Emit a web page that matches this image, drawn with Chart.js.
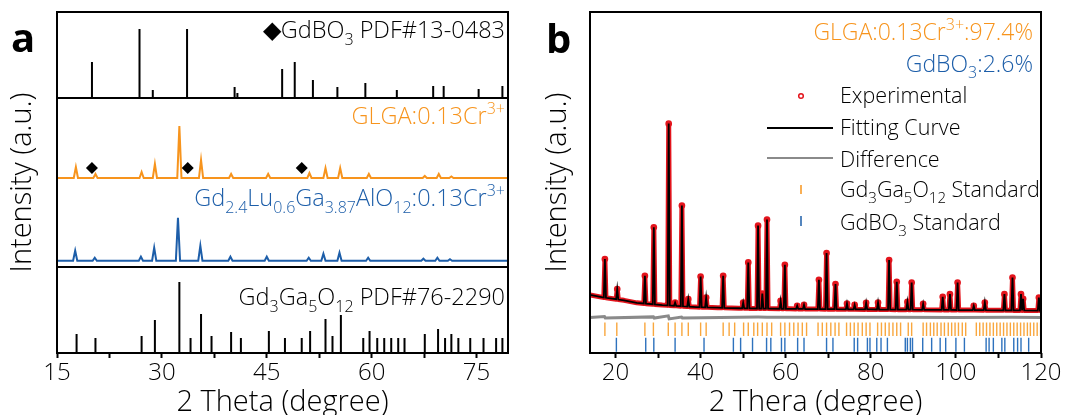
<!DOCTYPE html>
<html>
<head>
<meta charset="utf-8">
<script src="https://cdn.jsdelivr.net/npm/chart.js@4.4.1/dist/chart.umd.min.js"></script>
<style>
  html, body { margin: 0; padding: 0; background: #fff; overflow: hidden; }
  #wrap { position: relative; width: 1071px; height: 415px; }
  #chartA { position: absolute; left: 0; top: 0; }
  #chartB { position: absolute; left: 535px; top: 0; }
</style>
</head>
<body>
<div id="wrap">
  <canvas id="chartA" width="535" height="415" style="width:535px;height:415px"></canvas>
  <canvas id="chartB" width="536" height="415" style="width:536px;height:415px"></canvas>
</div>
<script>
// ---- panel a: reference cards and measured patterns (2θ in degrees, heights in a.u.) ----
const gdboRefPos = [20.0, 26.8, 28.7, 33.6, 40.4, 40.8, 47.2, 49.0, 51.6, 55.1, 59.1, 63.6, 68.8, 70.3, 75.3, 78.7]
const gdboRefInt = [36, 69, 8, 69, 11, 5, 29, 36, 18, 11, 15, 8, 12, 12, 9, 12]

const gggRefPos = [17.8, 20.5, 27.1, 29.0, 32.5, 34.1, 35.6, 37.1, 39.9, 41.3, 45.3, 47.6, 50.0, 51.2, 53.4, 54.4, 55.6,
  58.8, 59.7, 60.8, 61.8, 62.8, 63.8, 64.7, 67.6, 69.5, 70.5, 71.4, 72.4, 74.1, 76.0, 77.8, 78.7]
const gggRefInt = [19, 15, 17, 33, 71, 15, 39, 17, 21, 15, 22, 15, 15, 22, 34, 17, 38,
  15, 22, 15, 15, 15, 15, 15, 19, 24, 15, 19, 15, 15, 15, 15, 15]

const glgaPeakPos = [17.7, 20.5, 27.1, 29.0, 32.5, 35.6, 39.9, 45.2, 51.1, 53.4, 55.5, 59.6, 67.6, 69.6, 71.4]
const glgaPeakInt = [11, 4, 6, 14, 52, 18, 4, 4, 5, 10, 10, 4, 2, 4, 1.5]

const gdluPeakPos = [17.6, 20.4, 27.0, 28.9, 32.3, 35.5, 39.8, 45.0, 51.0, 53.1, 55.4, 59.5, 67.4, 69.4, 71.2]
const gdluPeakInt = [10, 3, 4, 13, 43, 15, 4, 4, 3, 7, 8, 3, 2, 3, 1.5]

// GdBO3 impurity reflections marked in the GLGA pattern
const impurityPos = [20.0, 33.7, 50.0]

const aTicks = [15, 22.5, 30, 37.5, 45, 52.5, 60, 67.5, 75]
const aTickLabels = ["15", "", "30", "", "45", "", "60", "", "75"]

// ---- panel b: Rietveld refinement ----
const bgPos = [14, 17, 22, 25, 31, 39, 44, 49, 61, 80, 103, 120]
const bgVal = [58, 55.5, 52.5, 50, 47.8, 45.8, 45.2, 44.6, 44, 43.4, 42.8, 42.3]

const fitPeakPos = [17.5, 20.4, 26.9, 29.0, 32.5, 34.0, 35.6, 37.1, 40.0, 41.3, 45.3, 50.0, 51.2, 53.5, 54.5, 55.6,
  58.8, 59.8, 62.7, 64.3, 67.8, 69.6, 71.7, 74.4, 76.2, 78.9, 81.7, 84.3, 86.1, 88.6, 89.6, 92.3, 96.9, 98.6,
  100.4, 104.2, 106.8, 111.4, 113.3, 115.3, 115.8, 119.5]
const fitPeakTop = [93.7, 63.7, 77, 125.3, 228.7, 50.3, 147, 53.7, 76.3, 55.3, 77, 50.3, 90.3, 127, 59.3, 133,
  52, 88, 47, 48, 73, 99.7, 68.7, 49.3, 48, 50, 50.3, 92.7, 71, 51, 70.3, 49, 56, 58.7,
  70.3, 47, 50.3, 58.7, 75.3, 58.7, 54, 55.3]

const diffPos = [14, 17.4, 17.6, 28.9, 29.1, 32.4, 32.6, 35.5, 35.7, 53.5, 55.6, 69.6, 84.3, 100.4, 113.3, 120]
const diffVal = [35.5, 36.3, 34.8, 36, 34.8, 37, 34, 35.9, 35, 35.8, 35.7, 35.6, 35.6, 35.5, 35.6, 35.4]

const gggStdPos = [17.5, 20.3, 26.9, 28.9, 32.4, 34.0, 35.6, 37.1, 40.0, 41.3, 45.3, 46.7, 48.0, 50.1, 51.2, 52.5,
  53.4, 54.5, 55.6, 56.7, 58.8, 59.8, 60.9, 61.9, 62.9, 63.9, 64.9, 67.6, 68.6, 69.6, 70.6, 71.6, 72.5, 74.3,
  75.2, 76.1, 77.0, 78.0, 78.9, 79.8, 81.6, 82.5, 83.4, 84.3, 85.2, 86.1, 87.0, 88.8, 89.6, 92.3, 93.1, 94.0,
  94.8, 95.6, 96.5, 97.3, 98.2, 99.0, 99.8, 100.6, 101.5, 102.3, 104.8, 105.6, 106.4, 107.2, 108.0, 108.8,
  109.6, 110.4, 111.2, 112.0, 112.8, 113.6, 114.4, 115.2, 116.0, 116.8, 117.5, 118.3, 119.1, 119.9]
const gdboStdPos = [20.2, 27.1, 29.0, 34.0, 40.8, 47.7, 49.4, 52.2, 55.5, 56.5, 59.0, 59.8, 62.8, 64.3, 69.6, 71.1,
  76.1, 76.9, 79.2, 79.8, 81.4, 82.4, 83.9, 88.1, 88.6, 89.3, 89.8, 92.2, 94.3, 96.3, 97.6, 100.0, 102.0,
  107.1, 107.8, 108.8, 110.8, 111.5, 113.6, 114.5, 115.3, 117.1, 120.0]

const bTicks = [20, 30, 40, 50, 60, 70, 80, 90, 100, 110, 120]
const bTickLabels = ["20", "", "40", "", "60", "", "80", "", "100", "", "120"]

// vertical stacking of the panel a traces
const refBottomBase = 0
const lowerDivider = 86
const gdluBase = 92.3
const glgaBase = 175
const upperDivider = 255
const impurityY = 185

const orange = "#f7941d"
const blue = "#1d5ea9"
const red = "#e3141c"
const grey = "#8a8a8a"
const FONT = "\"Open Sans\", sans-serif"
const W = 350

Chart.defaults.font.family = FONT
Chart.defaults.color = "#000"

function sticks(pos, heights, base) {
  const pts = []
  pos.forEach((x, i) => {
    pts.push({ x, y: base }, { x, y: base + heights[i] }, { x, y: null })
  })
  return pts
}

function tickRow(pos, y0, y1) {
  const pts = []
  pos.forEach((x) => pts.push({ x, y: y0 }, { x, y: y1 }, { x, y: null }))
  return pts
}

function flatProfile(pos, heights, base, x0, x1, half) {
  const pts = [{ x: x0, y: base }, { x: x1, y: base }]
  pos.forEach((x, i) => {
    pts.push({ x: x - half, y: base }, { x, y: base + heights[i] }, { x: x + half, y: base })
  })
  return pts.sort((a, b) => a.x - b.x)
}

function background(x) {
  for (let i = 1; i < bgPos.length; i++) {
    if (x <= bgPos[i]) {
      const t = (x - bgPos[i - 1]) / (bgPos[i] - bgPos[i - 1])
      return bgVal[i - 1] + t * (bgVal[i] - bgVal[i - 1])
    }
  }
  return bgVal[bgVal.length - 1]
}

function refinedProfile(half) {
  const pts = bgPos.map((x, i) => ({ x, y: bgVal[i], top: false }))
  fitPeakPos.forEach((x, i) => {
    pts.push({ x: x - half, y: background(x - half), top: false },
      { x, y: fitPeakTop[i], top: true },
      { x: x + half, y: background(x + half), top: false })
  })
  return pts.sort((a, b) => a.x - b.x)
}

// text with sub/superscripts; parts = [[text, "sub"|"sup"|undefined], ...]
function richText(ctx, parts, x, y, size, color, align) {
  const small = Math.round(size * 0.68)
  const fontOf = (k) => `${W} ${k ? small : size}px ${FONT}`
  const widths = parts.map(([t, k]) => { ctx.font = fontOf(k); return ctx.measureText(t).width })
  const total = widths.reduce((a, b) => a + b, 0)
  let cx = align === "right" ? x - total : x
  ctx.save()
  ctx.fillStyle = color
  ctx.textAlign = "left"
  ctx.textBaseline = "alphabetic"
  parts.forEach(([t, k], i) => {
    ctx.font = fontOf(k)
    const dy = k === "sub" ? size * 0.28 : k === "sup" ? -size * 0.42 : 0
    ctx.fillText(t, cx, y + dy)
    cx += widths[i]
  })
  ctx.restore()
}

const framePlugin = {
  id: "frame",
  afterDatasetsDraw(chart, args, opts) {
    const { ctx, chartArea: a, scales } = chart
    ctx.save()
    ctx.strokeStyle = "#000"
    ctx.lineWidth = 2
    ctx.strokeRect(a.left, a.top, a.right - a.left, a.bottom - a.top)
    ;(opts.dividers || []).forEach((v) => {
      const y = Math.round(scales.y.getPixelForValue(v))
      ctx.beginPath()
      ctx.moveTo(a.left, y)
      ctx.lineTo(a.right, y)
      ctx.stroke()
    })
    ctx.restore()
  }
}

const labelsA = {
  id: "labelsA",
  afterDraw(chart) {
    const { ctx, chartArea: a } = chart
    const r = a.right - 3
    ctx.save()
    ctx.font = `bold 40px ${FONT}`
    ctx.fillStyle = "#000"
    ctx.fillText("a", 11, 52)
    ctx.restore()
    richText(ctx, [["\u25C6"], ["GdBO"], ["3", "sub"], [" PDF#13-0483"]], r, 38, 23.5, "#000", "right")
    richText(ctx, [["GLGA:0.13Cr"], ["3+", "sup"]], r, 124, 23.5, orange, "right")
    richText(ctx, [["Gd"], ["2.4", "sub"], ["Lu"], ["0.6", "sub"], ["Ga"], ["3.87", "sub"], ["AlO"], ["12", "sub"], [":0.13Cr"], ["3+", "sup"]], r, 206, 23.5, blue, "right")
    richText(ctx, [["Gd"], ["3", "sub"], ["Ga"], ["5", "sub"], ["O"], ["12", "sub"], [" PDF#76-2290"]], r, 305, 23.5, "#000", "right")
  }
}

const labelsB = {
  id: "labelsB",
  afterDraw(chart) {
    const { ctx, chartArea: a } = chart
    const r = a.right - 8
    ctx.save()
    ctx.font = `bold 40px ${FONT}`
    ctx.fillStyle = "#000"
    ctx.fillText("b", 11, 53)
    ctx.restore()
    richText(ctx, [["GLGA:0.13Cr"], ["3+", "sup"], [":97.4%"]], r, 40, 23, orange, "right")
    richText(ctx, [["GdBO"], ["3", "sub"], [":2.6%"]], r, 72, 23, blue, "right")

    // legend
    const mx = 266, lx0 = 232, lx1 = 298, tx = 305
    ctx.save()
    ctx.strokeStyle = red
    ctx.lineWidth = 1.5
    ctx.beginPath()
    ctx.arc(mx, 96, 2.3, 0, Math.PI * 2)
    ctx.stroke()
    ctx.strokeStyle = "#000"
    ctx.lineWidth = 2
    ctx.beginPath(); ctx.moveTo(lx0, 128); ctx.lineTo(lx1, 128); ctx.stroke()
    ctx.strokeStyle = grey
    ctx.beginPath(); ctx.moveTo(lx0, 158); ctx.lineTo(lx1, 158); ctx.stroke()
    ctx.lineWidth = 1.5
    ctx.strokeStyle = orange
    ctx.beginPath(); ctx.moveTo(mx, 185); ctx.lineTo(mx, 194); ctx.stroke()
    ctx.strokeStyle = blue
    ctx.beginPath(); ctx.moveTo(mx, 216); ctx.lineTo(mx, 226); ctx.stroke()
    ctx.restore()
    richText(ctx, [["Experimental"]], tx, 103, 21.5, "#000")
    richText(ctx, [["Fitting Curve"]], tx, 135, 21.5, "#000")
    richText(ctx, [["Difference"]], tx, 167, 21.5, "#000")
    richText(ctx, [["Gd"], ["3", "sub"], ["Ga"], ["5", "sub"], ["O"], ["12", "sub"], [" Standard"]], tx, 197, 21.5, "#000")
    richText(ctx, [["GdBO"], ["3", "sub"], [" Standard"]], tx, 230, 21.5, "#000")
  }
}

function xAxis(min, max, ticks, labels, title) {
  return {
    type: "linear",
    min,
    max,
    afterBuildTicks(s) { s.ticks = ticks.map((value) => ({ value })) },
    afterFit(s) { s.height = 62 },
    ticks: {
      autoSkip: false,
      maxRotation: 0,
      padding: 1,
      color: "#000",
      font: { size: 24, weight: W },
      callback: (v, i) => labels[i]
    },
    grid: { drawOnChartArea: false, drawTicks: true, tickLength: 5, tickWidth: 2, tickColor: "#000" },
    border: { display: false },
    title: { display: true, text: title, color: "#000", font: { size: 29, weight: W, lineHeight: 1 }, padding: { top: 0, bottom: -2 } }
  }
}

function yAxis(max, width) {
  return {
    min: 0,
    max,
    afterFit(s) { s.width = width },
    ticks: { display: false },
    grid: { display: false },
    border: { display: false },
    title: { display: true, text: "Intensity (a.u.)", color: "#000", font: { size: 29, weight: W, lineHeight: 1 }, padding: { top: 8, bottom: 0 } }
  }
}

new Chart(document.getElementById("chartA"), {
  type: "line",
  data: {
    datasets: [
      { label: "GdBO3 marks", data: impurityPos.map((x) => ({ x, y: impurityY })), showLine: false,
        pointStyle: "rectRot", pointRadius: 6, pointBackgroundColor: "#000", pointBorderColor: "#000", pointBorderWidth: 0 },
      { label: "GdBO3 PDF#13-0483", data: sticks(gdboRefPos, gdboRefInt, upperDivider), borderColor: "#000", borderWidth: 2, pointRadius: 0 },
      { label: "GLGA:0.13Cr3+", data: flatProfile(glgaPeakPos, glgaPeakInt, glgaBase, 15, 79.5, 0.3), borderColor: orange, borderWidth: 2, pointRadius: 0 },
      { label: "Gd2.4Lu0.6Ga3.87AlO12:0.13Cr3+", data: flatProfile(gdluPeakPos, gdluPeakInt, gdluBase, 15, 79.5, 0.3), borderColor: blue, borderWidth: 2, pointRadius: 0 },
      { label: "Gd3Ga5O12 PDF#76-2290", data: sticks(gggRefPos, gggRefInt, refBottomBase), borderColor: "#000", borderWidth: 2, pointRadius: 0 }
    ]
  },
  options: {
    responsive: false,
    animation: false,
    events: [],
    layout: { padding: { left: 0, right: 27, top: 12, bottom: 0 } },
    plugins: { legend: { display: false }, tooltip: { enabled: false }, frame: { dividers: [lowerDivider, upperDivider] } },
    scales: {
      x: xAxis(15, 79.5, aTicks, aTickLabels, "2 Theta (degree)"),
      y: yAxis(341, 57)
    }
  },
  plugins: [framePlugin, labelsA]
})

new Chart(document.getElementById("chartB"), {
  type: "line",
  data: {
    datasets: [
      { label: "Fitting Curve", order: 1, data: refinedProfile(0.25), borderColor: "#000", borderWidth: 1.8, pointRadius: 0 },
      { label: "Experimental", order: 2, data: refinedProfile(0.25), borderColor: red, borderWidth: 5, borderJoinStyle: "round",
        pointRadius: (c) => (c.raw && c.raw.top ? 2.6 : 0), pointBorderColor: red, pointBackgroundColor: "rgba(0,0,0,0)", pointBorderWidth: 1.5 },
      { label: "Difference", order: 3, data: diffPos.map((x, i) => ({ x, y: diffVal[i] })), borderColor: grey, borderWidth: 3, pointRadius: 0 },
      { label: "Gd3Ga5O12 Standard", order: 4, data: tickRow(gggStdPos, 17, 30.3), borderColor: "#f9a73e", borderWidth: 1.4, pointRadius: 0 },
      { label: "GdBO3 Standard", order: 5, data: tickRow(gdboStdPos, 1.3, 15.3), borderColor: "#2e72bd", borderWidth: 1.4, pointRadius: 0 }
    ]
  },
  options: {
    responsive: false,
    animation: false,
    events: [],
    layout: { padding: { left: 0, right: 30, top: 12, bottom: 0 } },
    plugins: { legend: { display: false }, tooltip: { enabled: false }, frame: { dividers: [] } },
    scales: {
      x: xAxis(14, 120, bTicks, bTickLabels, "2 Thera (degree)"),
      y: yAxis(340, 55)
    }
  },
  plugins: [framePlugin, labelsB]
})
</script>
</body>
</html>
